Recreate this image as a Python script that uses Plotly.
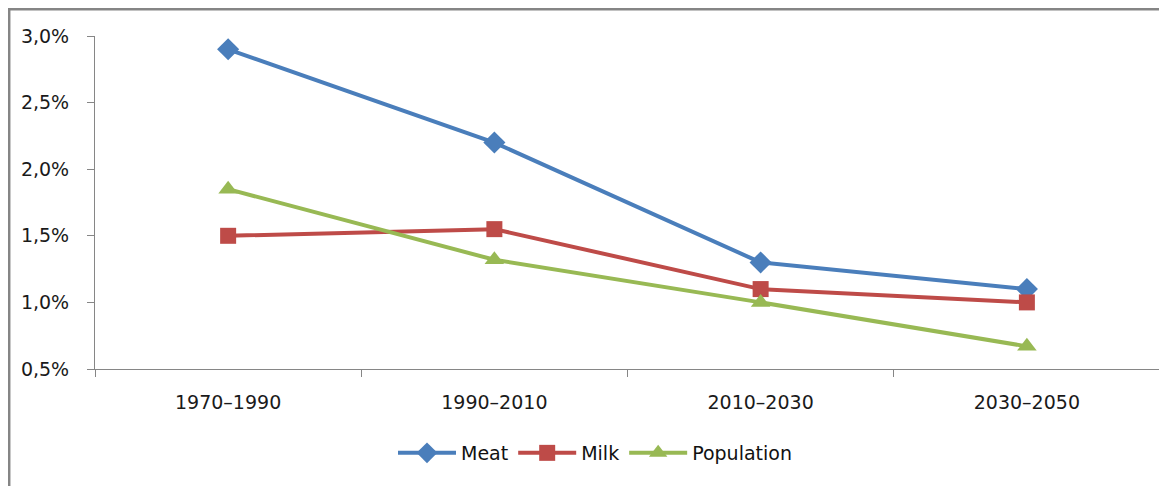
import plotly.graph_objects as go

categories = ["1970–1990", "1990–2010", "2010–2030", "2030–2050"]
meat = [2.9, 2.2, 1.3, 1.1]
milk = [1.5, 1.55, 1.1, 1.0]
population = [1.85, 1.32, 1.0, 0.67]
y_ticks = [0.5, 1.0, 1.5, 2.0, 2.5, 3.0]
y_tick_labels = ["0,5%", "1,0%", "1,5%", "2,0%", "2,5%", "3,0%"]

OFF = 8  # body margin of the page
W, H = 1167 - OFF, 486 - OFF
L, R, T, B = 95 - OFF, 15 - OFF, 36 - OFF, 117
pw = W - L - R
ph = H - T - B

font = dict(family="DejaVu Sans", size=19, color="#1a1a1a")

fig = go.Figure()
series = [
    ("Meat", meat, "#4A7EBB", "diamond", 17),
    ("Milk", milk, "#BE4B48", "square", 16),
    ("Population", population, "#98B954", "triangle-up", 17),
]
for name, vals, col, sym, sz in series:
    fig.add_trace(go.Scatter(
        x=categories, y=vals, name=name, mode="lines+markers",
        line=dict(color=col, width=4),
        marker=dict(symbol=sym, size=sz, color=col),
        cliponaxis=False,
    ))

def px_x(px):
    return (px - OFF - L) / pw

def px_y(py):
    return (H - B - (py - OFF)) / ph

fig.add_shape(type="rect", xref="paper", yref="paper",
              x0=px_x(9.2), x1=px_x(1200), y0=px_y(600), y1=px_y(9.2),
              line=dict(color="#858585", width=2.5), fillcolor="rgba(0,0,0,0)",
              layer="below")

fig.update_layout(
    width=W, height=H,
    margin=dict(l=L, r=R, t=T, b=B, autoexpand=False),
    paper_bgcolor="white", plot_bgcolor="white",
    font=font,
    showlegend=True,
    legend=dict(orientation="h", x=px_x(595), xanchor="center",
                y=px_y(453), yanchor="middle",
                font=dict(family="DejaVu Sans", size=19, color="#111111"),
                itemwidth=58),
)
fig.update_xaxes(
    type="category", range=[-0.5, 3.5], tickson="boundaries",
    ticks="outside", ticklen=7, tickcolor="#868686",
    showline=True, linecolor="#868686", linewidth=1,
    showgrid=False, zeroline=False, ticklabelstandoff=16,
    tickfont=font,
)
fig.update_yaxes(
    range=[0.5, 3.0], tickvals=y_ticks, ticktext=y_tick_labels,
    ticks="outside", ticklen=7, tickcolor="#868686",
    showline=True, linecolor="#868686", linewidth=1,
    showgrid=False, zeroline=False, ticklabelstandoff=14,
    tickfont=font,
)

fig.write_html("out.html")
